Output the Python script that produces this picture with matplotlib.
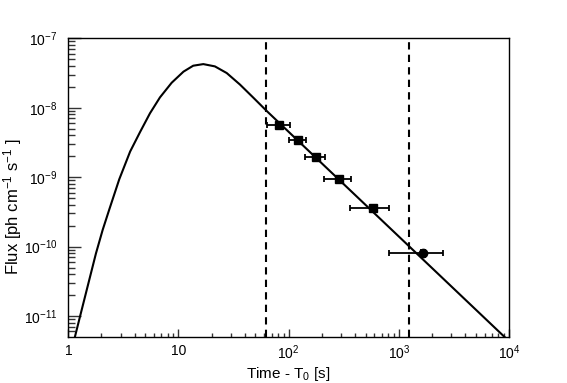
import matplotlib
matplotlib.use('Agg')
import matplotlib.pyplot as plt
from matplotlib.ticker import LogLocator, NullFormatter, FixedLocator

plt.rcParams['font.family'] = ['Liberation Sans', 'DejaVu Sans']
plt.rcParams['mathtext.fontset'] = 'custom'
plt.rcParams['mathtext.rm'] = 'Liberation Sans'
plt.rcParams['mathtext.it'] = 'Liberation Sans'

# model curve
curve_t = [1.067, 1.28, 1.78, 2.05, 2.36, 2.90, 3.64, 4.48, 5.51, 6.79, 8.67, 11.1,
           13.6, 16.8, 21.4, 27.4, 36.1, 47.7, 63.1, 12000]
curve_f = [3.16e-12, 1.0e-11, 7.94e-11, 1.74e-10, 3.47e-10, 9.33e-10, 2.34e-9, 4.47e-9,
           8.32e-9, 1.41e-8, 2.29e-8, 3.31e-8, 4.03e-8, 4.25e-8, 3.94e-8, 3.16e-8,
           2.16e-8, 1.40e-8, 9.0e-9, 3.3e-12]

# measured points
pt_t = [82.2, 120.7, 177, 286, 586]
pt_f = [5.64e-9, 3.43e-9, 1.97e-9, 9.29e-10, 3.55e-10]
pt_tlo = [63.1, 100.6, 140.6, 210.4, 360]
pt_thi = [102.8, 142.6, 213.5, 365, 818]

last_t = 1644
last_f = 7.98e-11
last_tlo = 808
last_thi = 2529
last_ferr = 0.9e-11

window = [62.2, 1243]

x_ticks = [1, 10, 100, 1000, 10000]
x_ticklabels = ['1', '10', '$10^{2}$', '$10^{3}$', '$10^{4}$']
y_ticks = [1e-11, 1e-10, 1e-9, 1e-8, 1e-7]
y_ticklabels = ['$10^{-11}$', '$10^{-10}$', '$10^{-9}$', '$10^{-8}$', '$10^{-7}$']

fig = plt.figure(figsize=(5.67, 3.83), dpi=100)
ax = fig.add_axes([0.1205, 0.1209, 0.7772, 0.7791])

ax.plot(curve_t, curve_f, color='black', lw=1.5)

for x in window:
    ax.axvline(x, color='black', lw=1.5, ls=(0, (3.5, 2.5)))

xerr = [[t - lo for t, lo in zip(pt_t, pt_tlo)], [hi - t for t, hi in zip(pt_t, pt_thi)]]
ax.errorbar(pt_t, pt_f, xerr=xerr, fmt='s', color='black', ms=5.5,
            elinewidth=1.3, capsize=2, capthick=1.3)
ax.errorbar([last_t], [last_f], xerr=[[last_t - last_tlo], [last_thi - last_t]],
            yerr=[[last_ferr], [last_ferr]], fmt='o', color='black', ms=6,
            elinewidth=1.3, capsize=2, capthick=1.3)

ax.set_xscale('log')
ax.set_yscale('log')
ax.set_xlim(1, 1e4)
ax.set_ylim(5.04e-12, 1e-7)

ax.xaxis.set_major_locator(FixedLocator(x_ticks))
ax.set_xticklabels(x_ticklabels)
ax.yaxis.set_major_locator(FixedLocator(y_ticks))
ax.set_yticklabels(y_ticklabels)
ax.xaxis.set_minor_locator(LogLocator(base=10, subs=range(2, 10), numticks=20))
ax.yaxis.set_minor_locator(LogLocator(base=10, subs=range(2, 10), numticks=20))
ax.xaxis.set_minor_formatter(NullFormatter())
ax.yaxis.set_minor_formatter(NullFormatter())

ax.tick_params(axis='both', which='both', direction='in', top=False, right=False,
               labelsize=10, color='#333333')
ax.tick_params(axis='y', which='major', length=9.5, width=1, pad=8)
ax.tick_params(axis='y', which='minor', length=5, width=1)
ax.tick_params(axis='x', which='major', length=6, width=1, pad=5)
ax.tick_params(axis='x', which='minor', length=3, width=1)

for s in ax.spines.values():
    s.set_linewidth(1)

ax.set_xlabel('Time - T$_{0}$ [s]', fontsize=11)
ax.set_ylabel('Flux [ph cm$^{-1}$ s$^{-1}$ ]', fontsize=12)
ax.xaxis.set_label_coords(0.5, -0.094)
ax.yaxis.set_label_coords(-0.1, 0.435)

fig.savefig('out.png', dpi=100)
